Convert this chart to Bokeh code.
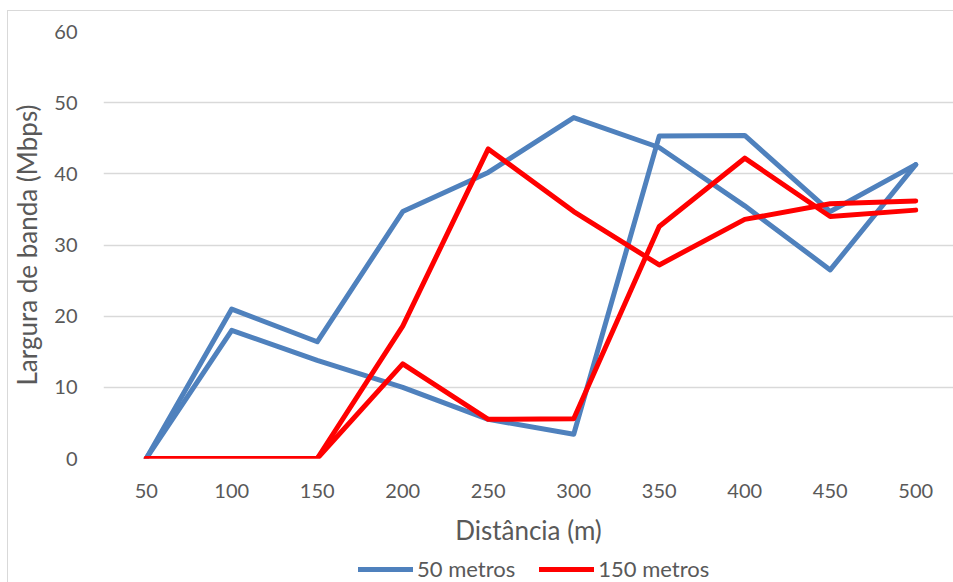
from bokeh.plotting import figure
from bokeh.layouts import column
from bokeh.models import Range1d, FixedTicker, Legend, LegendItem
from bokeh.embed import file_html
from bokeh.resources import INLINE

# Distance (m) along the x axis
distancia = [50, 100, 150, 200, 250, 300, 350, 400, 450, 500]

# Bandwidth (Mbps): two runs for each node spacing
banda_50_a = [0, 21.0, 16.4, 34.7, 40.2, 47.9, 43.7, 35.5, 26.5, 41.3]
banda_50_b = [0, 18.0, 13.8, 10.0, 5.5, 3.4, 45.3, 45.4, 34.7, 41.3]
banda_150_a = [0, 0, 0, 18.6, 43.5, 34.7, 27.2, 33.6, 35.8, 36.2]
banda_150_b = [0, 0, 0, 13.3, 5.5, 5.6, 32.6, 42.2, 34.0, 34.9]

y_ticks = [0, 10, 20, 30, 40, 50, 60]
series_names = ["50 metros", "150 metros"]

FONT = "Lato"
TEXT = "#595959"
GRID = "#D9D9D9"
BLUE = "#4F81BD"
RED = "#FF0000"
LW = 5

p = figure(
    width=945, height=537,
    output_backend="svg", toolbar_location=None,
    x_range=Range1d(25, 522.1), y_range=Range1d(0, 60),
    min_border_left=93, min_border_right=0,
    min_border_top=20, min_border_bottom=89,
)
p.outline_line_color = None
p.background_fill_color = "white"
p.border_fill_color = "white"

# axes
p.xaxis.ticker = FixedTicker(ticks=distancia)
p.yaxis.ticker = FixedTicker(ticks=y_ticks)
for ax in (p.xaxis[0], p.yaxis[0]):
    ax.axis_line_color = None
    ax.major_tick_line_color = None
    ax.minor_tick_line_color = None
    ax.major_label_text_font = FONT
    ax.major_label_text_font_size = "20px"
    ax.major_label_text_color = TEXT
    ax.axis_label_text_font = FONT
    ax.axis_label_text_font_size = "26px"
    ax.axis_label_text_font_style = "normal"
    ax.axis_label_text_color = TEXT

p.xaxis.axis_label = "Distância (m)"
p.yaxis.axis_label = "Largura de banda (Mbps)"
p.xaxis.major_label_standoff = 19
p.xaxis.axis_label_standoff = 13
p.yaxis.major_label_standoff = 20
p.yaxis.axis_label_standoff = 8

p.xgrid.grid_line_color = None
p.ygrid.grid_line_color = GRID
p.ygrid.grid_line_width = 1.3

style = dict(line_width=LW, line_cap="round", line_join="round")
p.line(distancia, banda_50_a, line_color=BLUE, **style)
p.line(distancia, banda_50_b, line_color=BLUE, **style)
p.line(distancia, banda_150_a, line_color=RED, **style)
p.line(distancia, banda_150_b, line_color=RED, **style)

# legend strip under the chart: key lines sit outside its visible range,
# only their legend swatches show
leg = figure(
    width=945, height=34,
    output_backend="svg", toolbar_location=None,
    x_range=Range1d(0, 1), y_range=Range1d(0, 1),
    x_axis_location=None, y_axis_location=None,
    min_border=0,
)
leg.grid.visible = False
leg.outline_line_color = None
leg.border_fill_color = "white"
k_blue = leg.line(distancia, banda_50_a, line_color=BLUE, line_width=LW, line_cap="round")
k_red = leg.line(distancia, banda_150_a, line_color=RED, line_width=LW, line_cap="round")

legend = Legend(
    items=[
        LegendItem(label=series_names[0], renderers=[k_blue]),
        LegendItem(label=series_names[1], renderers=[k_red]),
    ],
    location=(255, 0),
    orientation="horizontal",
    label_text_font=FONT,
    label_text_font_size="22px",
    label_text_color=TEXT,
    glyph_width=55,
    glyph_height=20,
    label_height=20,
    label_standoff=4,
    spacing=24,
    padding=0,
    margin=0,
    border_line_color=None,
    background_fill_alpha=0,
)
leg.add_layout(legend, "center")

layout = column(
    p, leg,
    styles={"margin-left": "7px", "margin-top": "10px",
            "border-left": "1px solid #D9D9D9", "border-top": "1px solid #D9D9D9"},
)

open("out.html", "w").write(file_html(layout, INLINE))
